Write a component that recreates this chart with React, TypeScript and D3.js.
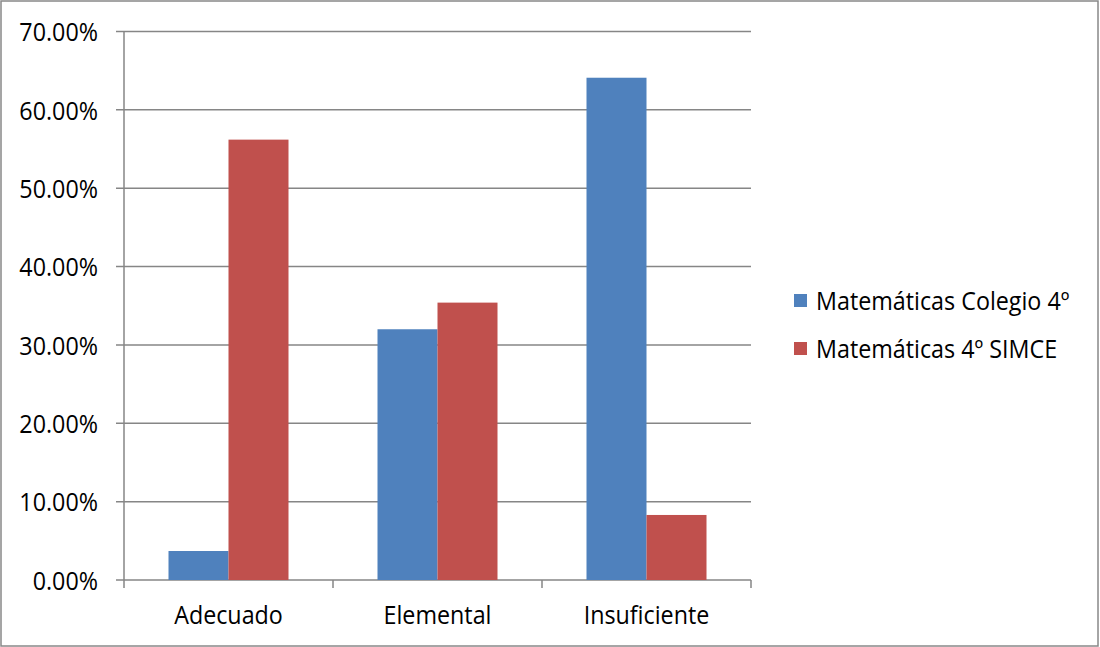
import React from "react";
import * as d3 from "d3";

const categories = ["Adecuado", "Elemental", "Insuficiente"];
const seriesNames = ["Matemáticas Colegio 4º", "Matemáticas 4º SIMCE"];
const colegio = [0.037, 0.32, 0.641];
const simce = [0.562, 0.354, 0.083];
const yTicks = [0, 0.1, 0.2, 0.3, 0.4, 0.5, 0.6, 0.7];
const colors = ["#4F81BD", "#C0504D"];

const W = 1100;
const H = 647;
const plot = { left: 124, right: 751, top: 31.5, bottom: 580 };
const FONT = "'Open Sans', sans-serif";
const FS = 23.3;
const SY = 1.06;

export default function App() {
  const x = d3.scaleBand<string>().domain(categories).range([plot.left, plot.right]).padding(0);
  const y = d3.scaleLinear().domain([0, 0.7]).range([plot.bottom, plot.top]);
  const bw = x.bandwidth();
  const barW = bw * (60 / 209);
  const series = [colegio, simce];
  const fmt = (v: number) => (v * 100).toFixed(2) + "%";
  const grid = "#868686";

  const stretched = (tx: number, ty: number, anchor: string, text: string, key?: string) => (
    <g key={key} transform={`translate(${tx},${ty}) scale(1,${SY})`}>
      <text x={0} y={0} textAnchor={anchor} dominantBaseline="central" fontFamily={FONT} fontSize={FS} fill="#000">
        {text}
      </text>
    </g>
  );

  return (
    <svg width={W} height={H} style={{ position: "absolute", left: 0, top: 0, background: "#fff" }}>
      <rect x={1} y={1} width={1097} height={645} fill="#fff" stroke="#888" strokeWidth={1.5} />
      {yTicks.map((t) => (
        <line key={"g" + t} x1={plot.left - 8} x2={plot.right} y1={y(t)} y2={y(t)} stroke={grid} strokeWidth={1.5} />
      ))}
      <line x1={plot.left} x2={plot.left} y1={plot.top} y2={plot.bottom} stroke={grid} strokeWidth={1.5} />
      {[...categories.map((c) => x(c) as number), plot.right].map((p, i) => (
        <line key={"t" + i} x1={p} x2={p} y1={plot.bottom} y2={plot.bottom + 8} stroke={grid} strokeWidth={1.5} />
      ))}
      {categories.map((c, i) =>
        series.map((s, si) => {
          const cx = (x(c) as number) + bw / 2;
          const bx = cx - barW + si * barW;
          return (
            <rect key={c + si} x={bx} y={y(s[i])} width={barW} height={y(0) - y(s[i])} fill={colors[si]} />
          );
        })
      )}
      {yTicks.map((t) => stretched(98, y(t), "end", fmt(t), "yl" + t))}
      {categories.map((c) => stretched((x(c) as number) + bw / 2, 614, "middle", c, "xl" + c))}
      {seriesNames.map((n, i) => (
        <g key={n}>
          <rect x={794} y={294 + i * 48} width={13} height={13} fill={colors[i]} />
          {stretched(816, 300.5 + i * 48, "start", n)}
        </g>
      ))}
    </svg>
  );
}
